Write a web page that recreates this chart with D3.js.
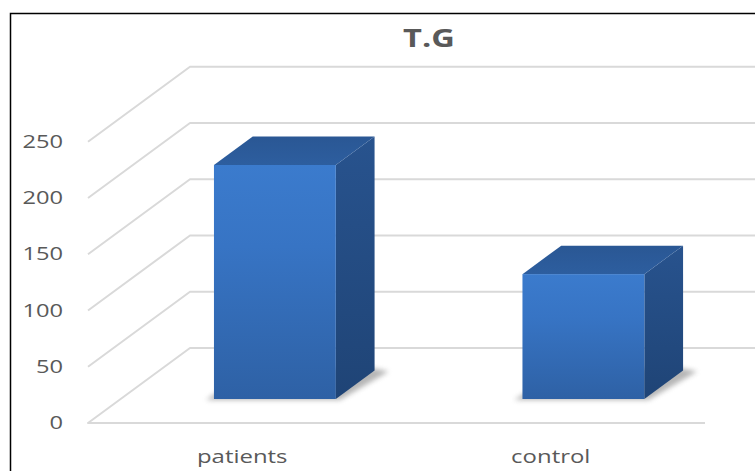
<!DOCTYPE html>
<html>
<head>
<meta charset="utf-8">
<script src="https://cdn.jsdelivr.net/npm/d3@7"></script>
<style>
  html, body { margin: 0; padding: 0; background: #fff; }
  svg { display: block; }
</style>
</head>
<body>
<svg id="chart" width="755" height="471"></svg>
<script>
// Data
const categories = ["patients", "control"];
const values = [208, 111];
const yTicks = [0, 50, 100, 150, 200, 250];
const title = "T.G";

const svg = d3.select("#chart");
const W = 755, H = 471;

// Oblique 3D frame: front plane of the floor and depth vector to the back wall
const floorLeft = 88, floorRight = 705;
const depth = { dx: 102, dy: -75 };
const barDepth = { front: 0.32, back: 0.70 };
const textScaleX = 1.28;

const y = d3.scaleLinear().domain([0, 250]).range([423, 141.75]);
const x = d3.scaleBand().domain(categories).range([floorLeft, floorRight])
  .paddingInner(0.605).paddingOuter(0.3025);

// helpers to shift a point on the front plane into the depth of the box
const px = (xv, t) => xv + depth.dx * t;
const py = (yv, t) => yv + depth.dy * t;

// Frame border
svg.append("rect").attr("width", W).attr("height", H).attr("fill", "#fff");
svg.append("path")
  .attr("d", `M10.5,${H} L10.5,13.5 L${W},13.5`)
  .attr("fill", "none").attr("stroke", "#000").attr("stroke-width", 1.5);

// Defs: gradients and shadow blur
const defs = svg.append("defs");
const gFront = defs.append("linearGradient").attr("id", "gFront")
  .attr("x1", 0).attr("y1", 0).attr("x2", 0).attr("y2", 1);
gFront.append("stop").attr("offset", "0%").attr("stop-color", "#3b7bcd");
gFront.append("stop").attr("offset", "35%").attr("stop-color", "#3774c4");
gFront.append("stop").attr("offset", "100%").attr("stop-color", "#2e61a5");
const gSide = defs.append("linearGradient").attr("id", "gSide")
  .attr("x1", 0).attr("y1", 0).attr("x2", 0).attr("y2", 1);
gSide.append("stop").attr("offset", "0%").attr("stop-color", "#28538e");
gSide.append("stop").attr("offset", "100%").attr("stop-color", "#1f4476");
const gTop = defs.append("linearGradient").attr("id", "gTop")
  .attr("x1", 0).attr("y1", 1).attr("x2", 0).attr("y2", 0);
gTop.append("stop").attr("offset", "0%").attr("stop-color", "#2d5e9f");
gTop.append("stop").attr("offset", "100%").attr("stop-color", "#2a5794");
defs.append("filter").attr("id", "soft").attr("x", "-50%").attr("y", "-50%")
  .attr("width", "200%").attr("height", "200%")
  .append("feGaussianBlur").attr("stdDeviation", 2.5);

// Walls: gridlines on the side wall (diagonals) and back wall (horizontals)
const grid = svg.append("g").attr("fill", "none")
  .attr("stroke", "#d9d9d9").attr("stroke-width", 2).attr("stroke-linejoin", "round");
yTicks.forEach(v => {
  const yf = y(v);
  let d = `M${floorLeft},${yf} L${px(floorLeft, 1)},${py(yf, 1)} L${W + 60},${py(yf, 1)}`;
  if (v === 0) d = `M${floorRight},${yf} L${floorLeft},${yf} L${px(floorLeft, 1)},${py(yf, 1)} L${W + 60},${py(yf, 1)}`;
  grid.append("path").attr("d", d);
});

// Axis tick labels
const tickG = svg.append("g").attr("fill", "#595959")
  .attr("font-family", "'Open Sans', 'Noto Sans', sans-serif").attr("font-size", 18.5);
yTicks.forEach(v => {
  tickG.append("text")
    .attr("transform", `translate(63,${y(v) + 6}) scale(${textScaleX},1)`)
    .attr("text-anchor", "end").text(v);
});

// Bars
const bw = x.bandwidth();
const tD = barDepth.back - barDepth.front;
const bars = svg.append("g");
categories.forEach((c, i) => {
  const x0 = px(x(c), barDepth.front);
  const x1 = x0 + bw;
  const yb = py(y(0), barDepth.front);
  const yt = py(y(values[i]), barDepth.front);
  const ddx = depth.dx * tD, ddy = depth.dy * tD;
  const g = bars.append("g");
  // soft shadow on the floor
  g.append("path")
    .attr("d", `M${x0 - 8},${yb + 1} L${x1 + 4},${yb + 1} L${x1 + ddx + 14},${yb + ddy + 1} L${x1 + ddx},${yb + ddy - 2} L${x0 + ddx},${yb + ddy - 2} Z`)
    .attr("fill", "#7a7a7a").attr("opacity", 0.55).attr("filter", "url(#soft)");
  // side face
  g.append("path")
    .attr("d", `M${x1},${yt} L${x1 + ddx},${yt + ddy} L${x1 + ddx},${yb + ddy} L${x1},${yb} Z`)
    .attr("fill", "url(#gSide)");
  // top face
  g.append("path")
    .attr("d", `M${x0},${yt} L${x1},${yt} L${x1 + ddx},${yt + ddy} L${x0 + ddx},${yt + ddy} Z`)
    .attr("fill", "url(#gTop)");
  // front face
  g.append("rect")
    .attr("x", x0).attr("y", yt).attr("width", bw).attr("height", yb - yt)
    .attr("fill", "url(#gFront)");
});

// Category labels
const catG = svg.append("g").attr("fill", "#595959")
  .attr("font-family", "'Open Sans', 'Noto Sans', sans-serif").attr("font-size", 18.7);
categories.forEach(c => {
  catG.append("text")
    .attr("transform", `translate(${x(c) + bw / 2},463) scale(${textScaleX},1)`)
    .attr("text-anchor", "middle").text(c);
});

// Title
svg.append("text")
  .attr("transform", `translate(429,47) scale(${textScaleX},1)`)
  .attr("text-anchor", "middle").attr("fill", "#595959")
  .attr("font-family", "'Open Sans', 'Noto Sans', sans-serif")
  .attr("font-weight", "bold").attr("font-size", 25.5)
  .text(title);
</script>
</body>
</html>
